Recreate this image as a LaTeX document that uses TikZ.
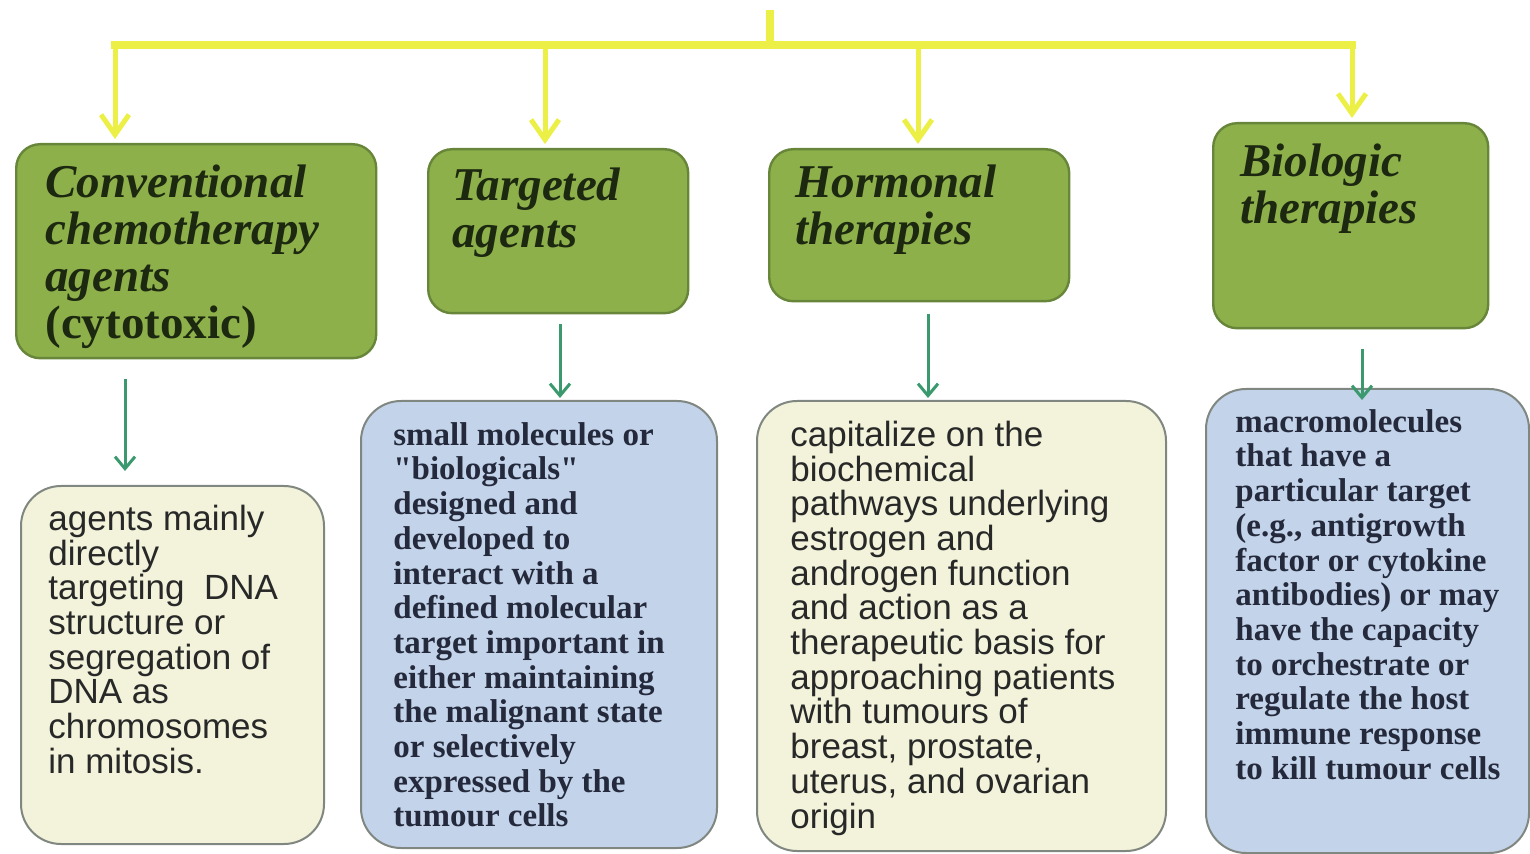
\documentclass[tikz,border=0pt]{standalone}
\usepackage{fontspec}
\setmainfont{Liberation Serif}
\setsansfont{Liberation Sans}
\newfontfamily\plainserif{Liberation Serif}[Ligatures=TeXOff]
\usetikzlibrary{arrows.meta, positioning}

\definecolor{boxgreen}{RGB}{141,176,75}
\definecolor{boxgreenline}{RGB}{104,134,58}
\definecolor{paleyellow}{RGB}{242,243,218}
\definecolor{paleblue}{RGB}{195,211,234}
\definecolor{boxgray}{RGB}{128,134,128}
\definecolor{baryellow}{RGB}{236,240,70}
\definecolor{arrowgreen}{RGB}{58,154,110}
\definecolor{titleink}{RGB}{28,40,16}
\definecolor{bodyink}{RGB}{40,40,40}
\definecolor{blueink}{RGB}{36,42,60}

\tikzset{
  headbox/.style={draw=boxgreenline, line width=1.2pt, fill=boxgreen, rounded corners=12pt, anchor=north west},
  notebox/.style={draw=boxgray, line width=1pt, rounded corners=20pt, anchor=north west},
  headtext/.style={inner sep=0pt, align=left, text=titleink, font=\fontsize{23.5}{23.5}\selectfont\bfseries\itshape},
  sanstext/.style={inner sep=0pt, align=left, text=bodyink, font=\sffamily\fontsize{17.5}{17.35}\selectfont},
  seriftext/.style={inner sep=0pt, align=left, text=blueink, font=\plainserif\fontsize{16.5}{17.35}\selectfont\bfseries},
  yline/.style={draw=baryellow, line width=4pt},
  yarrow/.style={draw=baryellow, line width=2.5pt, -{Straight Barb[length=10pt,width=14pt]}},
  garrow/.style={draw=arrowgreen, line width=1.5pt, -{Straight Barb[length=6pt,width=10pt]}},
}

\begin{document}
\begin{tikzpicture}[x=0.5pt, y=-0.5pt]
  \useasboundingbox (0,0) rectangle (1530,854);
  %
  \node[headbox, minimum width=180pt, minimum height=107pt] (b1) at (15,143) {};
  \node[headbox, minimum width=130pt, minimum height=82pt] (b2) at (427,148) {};
  \node[headbox, minimum width=150pt, minimum height=76pt] (b3) at (768,148) {};
  \node[headbox, minimum width=137.5pt, minimum height=102.5pt] (b4) at (1212,122) {};
  %
  \node[notebox, fill=paleyellow, minimum width=151.5pt, minimum height=179pt] (b5) at (20,485) {};
  \node[notebox, fill=paleblue, minimum width=178pt, minimum height=223.5pt] (b6) at (360,400) {};
  \node[notebox, fill=paleyellow, minimum width=204.5pt, minimum height=225pt] (b7) at (756,400) {};
  \node[notebox, fill=paleblue, minimum width=161.5pt, minimum height=232pt] (b8) at (1205,388) {};
  %
  \node[headtext, below right=10.5pt and 15pt of b1.north west] (t1) {Conventional\\chemotherapy\\agents\\\upshape(cytotoxic)};
  \node[headtext, below right=9.5pt and 12.5pt of b2.north west] (t2) {Targeted\\agents};
  \node[headtext, below right=8pt and 13.5pt of b3.north west] (t3) {Hormonal\\therapies};
  \node[headtext, below right=10.5pt and 14pt of b4.north west] (t4) {Biologic\\therapies};
  %
  \node[sanstext, below right=9.8pt and 14pt of b5.north west] (t5) {agents mainly\\directly\\targeting~ DNA\\structure or\\segregation of\\DNA as\\chromosomes\\in mitosis.};
  \node[seriftext, below right=11pt and 16.5pt of b6.north west] (t6) {small molecules or\\"biologicals"\\designed and\\developed to\\interact with a\\defined molecular\\target important in\\either maintaining\\the malignant state\\or selectively\\expressed by the\\tumour cells};
  \node[sanstext, below right=10.3pt and 17pt of b7.north west] (t7) {capitalize on the\\biochemical\\pathways underlying\\estrogen and\\androgen function\\and action as a\\therapeutic basis for\\approaching patients\\with tumours of\\breast, prostate,\\uterus, and ovarian\\origin};
  \node[seriftext, below right=10.5pt and 15pt of b8.north west] (t8) {macromolecules\\that have a\\particular target\\(e.g., antigrowth\\factor or cytokine\\antibodies) or may\\have the capacity\\to orchestrate or\\regulate the host\\immune response\\to kill tumour cells};
  %
  \coordinate (top) at (770,10);
  \coordinate (hub) at (770,45);
  \coordinate (j1) at (115,45);
  \coordinate (j2) at (545,45);
  \coordinate (j3) at (918,45);
  \coordinate (j4) at (1352,45);
  \draw[yline] (top) -- (hub);
  \draw[yline] ([xshift=-2pt]j1) -- ([xshift=2pt]j4);
  \foreach \i in {1,...,4}
    \draw[yarrow, shorten >=2pt] (j\i) -- (j\i |- b\i.north);
  %
  \coordinate (k1) at (125,0);
  \coordinate (k2) at (560,0);
  \coordinate (k3) at (928,0);
  \coordinate (k4) at (1362,0);
  \foreach \i/\j/\s/\e in {1/5/10/7, 2/6/5/1, 3/7/6/1, 4/8/10/-6}
    \draw[garrow, shorten <=\s pt, shorten >=\e pt] (b\i.south -| k\i) -- (b\j.north -| k\i);
\end{tikzpicture}
\end{document}
